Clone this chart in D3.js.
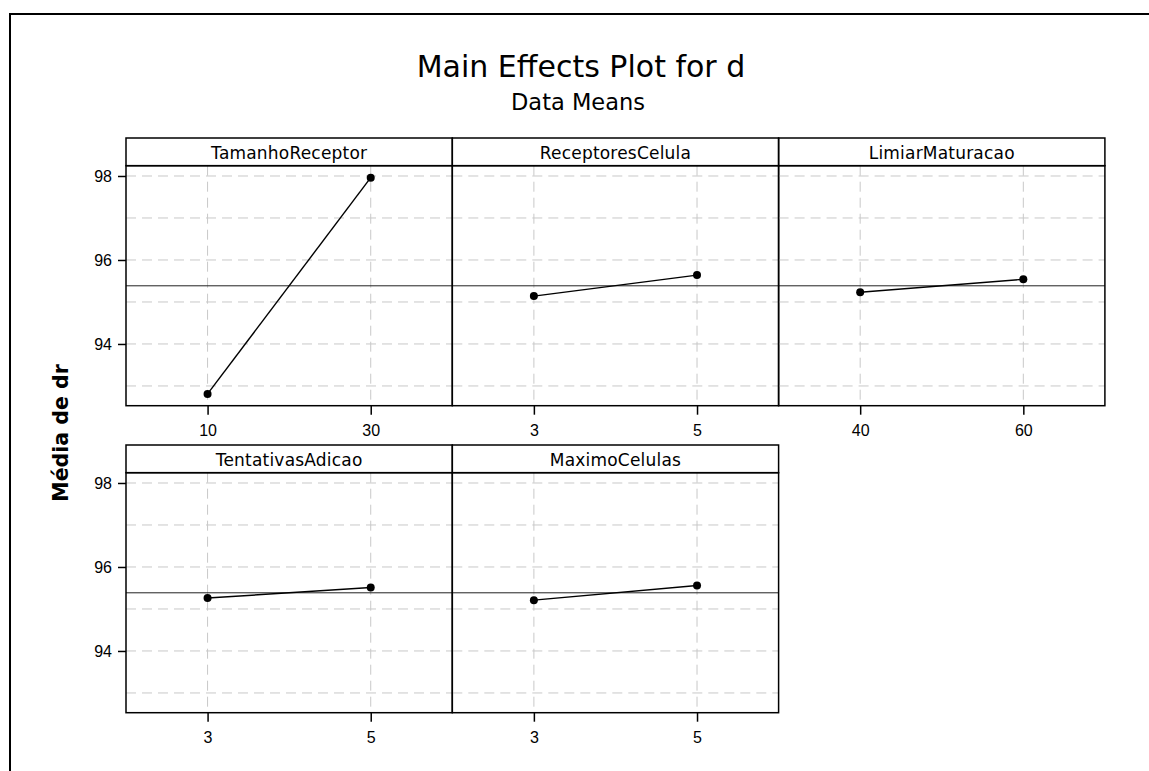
<!DOCTYPE html>
<html>
<head>
<meta charset="utf-8">
<script src="https://cdn.jsdelivr.net/npm/d3@7"></script>
<style>
  body { margin: 0; background: #fff; overflow: hidden; }
  svg { display: block; }
</style>
</head>
<body>
<div id="chart"></div>
<script>
/* Data */
var factors = ["TamanhoReceptor", "ReceptoresCelula", "LimiarMaturacao", "TentativasAdicao", "MaximoCelulas"];
var levels = [["10", "30"], ["3", "5"], ["40", "60"], ["3", "5"], ["3", "5"]];
var means = [[92.81, 97.96], [95.14, 95.64], [95.23, 95.54], [95.26, 95.51], [95.21, 95.56]];
var grandMean = 95.385;
var yTicks = [94, 96, 98];
var yGrid = [93, 94, 95, 96, 97, 98];

/* Settings */
var width = 1149,
    height = 771,
    left = 126,
    panelW = 326.3,
    top0 = 138,
    rowStep = 307,
    headerH = 27.7,
    plotH = 240,
    cols = 3;

var svg = d3.select("#chart").append("svg")
    .attr("width", width)
    .attr("height", height)
    .attr("viewBox", "0 0 " + width + " " + height)
    .style("font-family", "'DejaVu Sans', sans-serif");

/* outer frame, only left and top edges are visible */
svg.append("path")
  .attr("d", "M10," + (height + 5) + "V14H" + (width + 5))
  .attr("fill", "none")
  .attr("stroke", "black")
  .attr("stroke-width", 2);

svg.append("text")
  .attr("x", 581)
  .attr("y", 77)
  .attr("text-anchor", "middle")
  .attr("font-size", 30)
  .text("Main Effects Plot for d");

svg.append("text")
  .attr("x", 578)
  .attr("y", 110)
  .attr("text-anchor", "middle")
  .attr("font-size", 22.5)
  .text("Data Means");

svg.append("text")
  .attr("transform", "translate(68,433) rotate(-90)")
  .attr("text-anchor", "middle")
  .attr("font-size", 20.5)
  .attr("font-weight", "bold")
  .text("Média de dr");

factors.forEach(function(name, i) {
  var col = i % cols,
      row = Math.floor(i / cols),
      x0 = left + col * panelW,
      y0 = top0 + row * rowStep,
      py0 = y0 + headerH,
      py1 = py0 + plotH;

  var x = d3.scalePoint()
      .domain(levels[i])
      .range([x0, x0 + panelW])
      .padding(0.5);

  var y = d3.scaleLinear()
      .domain([92.53, 98.245])
      .range([py1, py0]);

  var g = svg.append("g");

  /* grid */
  g.selectAll(".hgrid")
    .data(yGrid)
    .join("line")
      .attr("x1", x0).attr("x2", x0 + panelW)
      .attr("y1", d => y(d)).attr("y2", d => y(d))
      .attr("stroke", "#c8c8c8")
      .attr("stroke-dasharray", "10,6");

  g.selectAll(".vgrid")
    .data(levels[i])
    .join("line")
      .attr("x1", d => x(d)).attr("x2", d => x(d))
      .attr("y1", py0).attr("y2", py1)
      .attr("stroke", "#c8c8c8")
      .attr("stroke-dasharray", "10,6");

  /* reference line at the overall mean */
  g.append("line")
    .attr("x1", x0).attr("x2", x0 + panelW)
    .attr("y1", y(grandMean)).attr("y2", y(grandMean))
    .attr("stroke", "#222")
    .attr("stroke-width", 1);

  /* means */
  var pts = levels[i].map((l, k) => [l, means[i][k]]);
  g.append("path")
    .datum(pts)
    .attr("fill", "none")
    .attr("stroke", "black")
    .attr("stroke-width", 1.4)
    .attr("d", d3.line().x(d => x(d[0])).y(d => y(d[1])));

  g.selectAll(".pt")
    .data(pts)
    .join("circle")
      .attr("cx", d => x(d[0]))
      .attr("cy", d => y(d[1]))
      .attr("r", 4)
      .attr("fill", "black");

  /* header */
  g.append("rect")
    .attr("x", x0).attr("y", y0)
    .attr("width", panelW).attr("height", headerH)
    .attr("fill", "none")
    .attr("stroke", "black")
    .attr("stroke-width", 1.5);

  g.append("text")
    .attr("x", x0 + panelW / 2)
    .attr("y", y0 + 21)
    .attr("text-anchor", "middle")
    .attr("font-size", 17)
    .attr("letter-spacing", 0.2)
    .text(name);

  /* panel box */
  g.append("rect")
    .attr("x", x0).attr("y", py0)
    .attr("width", panelW).attr("height", plotH)
    .attr("fill", "none")
    .attr("stroke", "black")
    .attr("stroke-width", 1.5);

  /* x axis */
  var xAxis = g.append("g")
    .attr("transform", "translate(0," + py1 + ")")
    .call(d3.axisBottom(x).tickSize(9).tickPadding(10));
  xAxis.select(".domain").remove();
  xAxis.selectAll("line").attr("stroke", "black").attr("stroke-width", 1.5);
  xAxis.selectAll("text")
    .attr("font-family", "'Liberation Sans', Arial, sans-serif")
    .attr("font-size", 16)
    .attr("fill", "black");

  /* y axis on the first column */
  if (col == 0) {
    var yAxis = g.append("g")
      .attr("transform", "translate(" + x0 + ",0)")
      .call(d3.axisLeft(y).tickValues(yTicks).tickFormat(d3.format("d")).tickSize(8).tickPadding(6));
    yAxis.select(".domain").remove();
    yAxis.selectAll("line").attr("stroke", "black").attr("stroke-width", 1.5);
    yAxis.selectAll("text")
      .attr("font-family", "'Liberation Sans', Arial, sans-serif")
      .attr("font-size", 16)
      .attr("fill", "black");
  }
});
</script>
</body>
</html>
